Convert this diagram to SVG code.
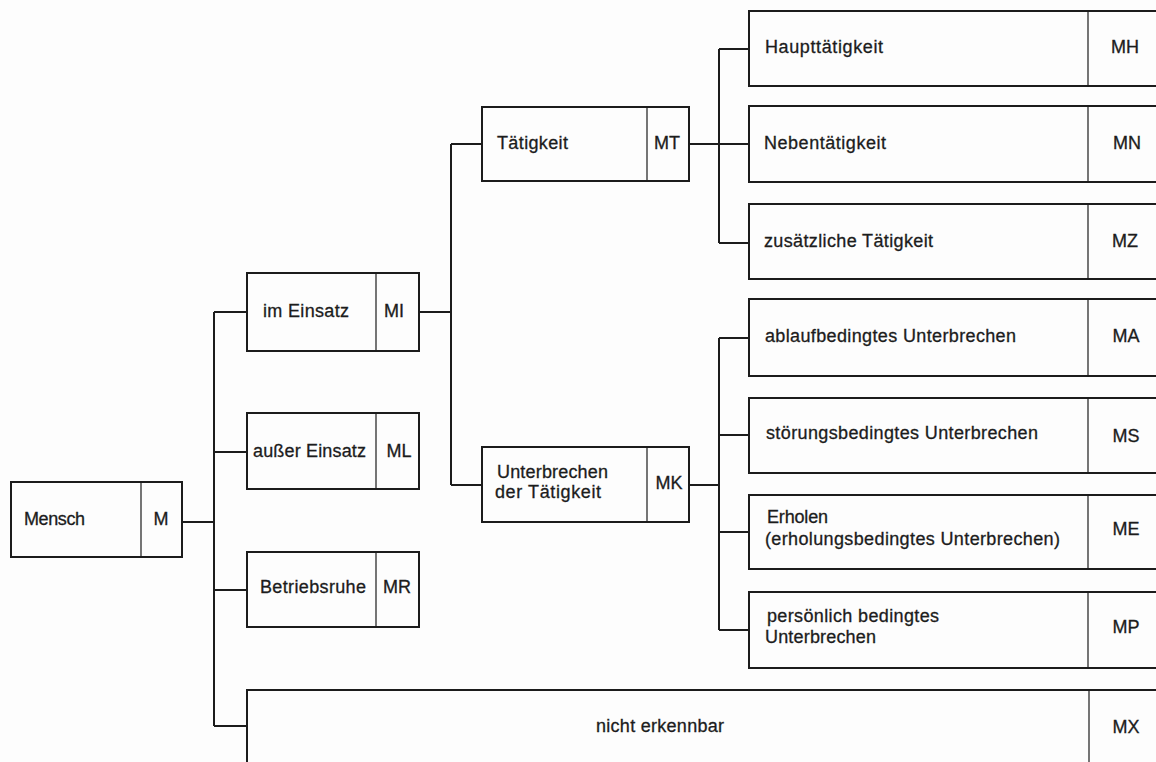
<svg xmlns="http://www.w3.org/2000/svg" width="1156" height="762" viewBox="0 0 1156 762">
<style>
.box{fill:none;stroke:#1c1c1c;stroke-width:2}
.div{stroke:#1c1c1c;stroke-width:1.2}
.con{fill:none;stroke:#1c1c1c;stroke-width:2}
text{font-family:"Liberation Sans",Arial,sans-serif;font-size:18px;fill:#1c1c1c;stroke:#1c1c1c;stroke-width:0.3}
.c{text-anchor:middle}
</style>
<rect width="1156" height="762" fill="#fdfdfd"/>
<g id="connectors">
<path class="con" d="M182 522H214M214 312V726M214 312H247M214 452H247M214 590H247M214 726H247"/>
<path class="con" d="M419 312H451M451 144V485M451 144H482M451 485H482"/>
<path class="con" d="M689 144H719M719 49V243M719 49H749M719 144H749M719 243H749"/>
<path class="con" d="M689 485H719M719 338V630M719 338H749M719 435H749M719 532H749M719 630H749"/>
</g>
<g id="n-M"><rect class="box" x="11" y="482" width="171" height="75"/><line class="div" x1="141" y1="482" x2="141" y2="557"/><text x="24" y="525" textLength="61" lengthAdjust="spacing">Mensch</text><text class="c" x="161" y="525">M</text></g>
<g id="n-MI"><rect class="box" x="247" y="273" width="172" height="78"/><line class="div" x1="376" y1="273" x2="376" y2="351"/><text x="263" y="317" textLength="86" lengthAdjust="spacing">im Einsatz</text><text class="c" x="394" y="317">MI</text></g>
<g id="n-ML"><rect class="box" x="247" y="413" width="172" height="76"/><line class="div" x1="376" y1="413" x2="376" y2="489"/><text x="253" y="457" textLength="113" lengthAdjust="spacing">außer Einsatz</text><text class="c" x="399" y="457">ML</text></g>
<g id="n-MR"><rect class="box" x="247" y="552" width="172" height="75"/><line class="div" x1="376" y1="552" x2="376" y2="627"/><text x="260" y="593" textLength="106" lengthAdjust="spacing">Betriebsruhe</text><text class="c" x="397" y="593">MR</text></g>
<g id="n-MT"><rect class="box" x="482" y="107" width="207" height="74"/><line class="div" x1="647" y1="107" x2="647" y2="181"/><text x="497" y="149" textLength="71" lengthAdjust="spacing">Tätigkeit</text><text class="c" x="667" y="149">MT</text></g>
<g id="n-MK"><rect class="box" x="482" y="447" width="207" height="75"/><line class="div" x1="647" y1="447" x2="647" y2="522"/><text x="497" y="478" textLength="111" lengthAdjust="spacing">Unterbrechen</text><text x="495" y="498" textLength="106" lengthAdjust="spacing">der Tätigkeit</text><text class="c" x="669" y="489">MK</text></g>
<g id="n-MH"><rect class="box" x="749" y="11" width="430" height="75"/><line class="div" x1="1088" y1="11" x2="1088" y2="86"/><text x="765" y="53" textLength="118" lengthAdjust="spacing">Haupttätigkeit</text><text class="c" x="1125" y="53">MH</text></g>
<g id="n-MN"><rect class="box" x="749" y="106" width="430" height="76"/><line class="div" x1="1088" y1="106" x2="1088" y2="182"/><text x="764" y="149" textLength="122" lengthAdjust="spacing">Nebentätigkeit</text><text class="c" x="1127" y="149">MN</text></g>
<g id="n-MZ"><rect class="box" x="749" y="204" width="430" height="75"/><line class="div" x1="1088" y1="204" x2="1088" y2="279"/><text x="764" y="247" textLength="169" lengthAdjust="spacing">zusätzliche Tätigkeit</text><text class="c" x="1125" y="247">MZ</text></g>
<g id="n-MA"><rect class="box" x="749" y="299" width="430" height="77"/><line class="div" x1="1088" y1="299" x2="1088" y2="376"/><text x="765" y="342" textLength="251" lengthAdjust="spacing">ablaufbedingtes Unterbrechen</text><text class="c" x="1126" y="342">MA</text></g>
<g id="n-MS"><rect class="box" x="749" y="398" width="430" height="75"/><line class="div" x1="1088" y1="398" x2="1088" y2="473"/><text x="766" y="439" textLength="272" lengthAdjust="spacing">störungsbedingtes Unterbrechen</text><text class="c" x="1126" y="442">MS</text></g>
<g id="n-ME"><rect class="box" x="749" y="495" width="430" height="74"/><line class="div" x1="1088" y1="495" x2="1088" y2="569"/><text x="767" y="523" textLength="61" lengthAdjust="spacing">Erholen</text><text x="765" y="545" textLength="295" lengthAdjust="spacing">(erholungsbedingtes Unterbrechen)</text><text class="c" x="1126" y="535">ME</text></g>
<g id="n-MP"><rect class="box" x="749" y="592" width="430" height="76"/><line class="div" x1="1088" y1="592" x2="1088" y2="668"/><text x="767" y="622" textLength="172" lengthAdjust="spacing">persönlich bedingtes</text><text x="765" y="643" textLength="111" lengthAdjust="spacing">Unterbrechen</text><text class="c" x="1126" y="633">MP</text></g>
<g id="n-MX"><rect class="box" x="247" y="690" width="932" height="100"/><line class="div" x1="1089" y1="690" x2="1089" y2="790"/><text x="596" y="732" textLength="128" lengthAdjust="spacing">nicht erkennbar</text><text class="c" x="1126" y="733">MX</text></g>
</svg>
